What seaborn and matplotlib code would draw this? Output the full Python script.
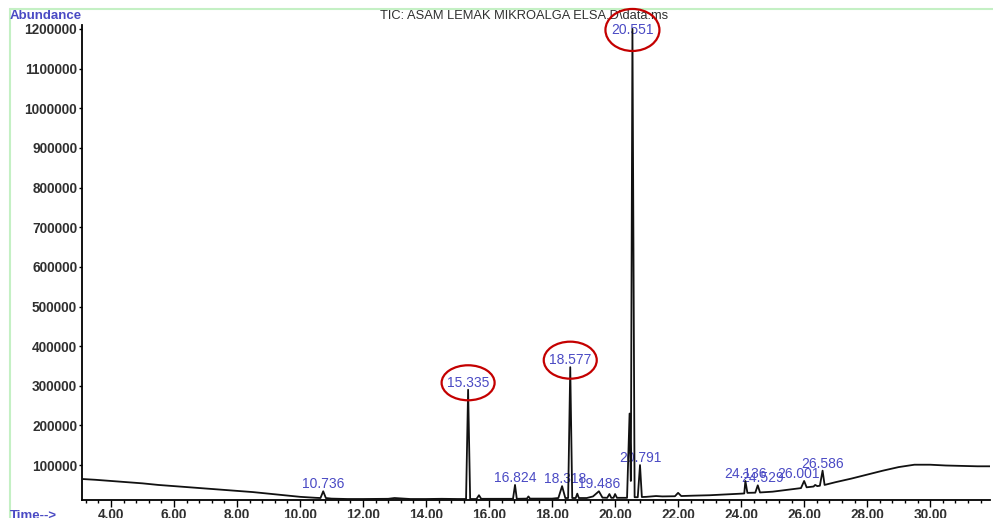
#!/usr/bin/env python3
# -*- coding: utf-8 -*-
"""
Kromatogram TIC - asam lemak mikroalga (GC-MS), digambar ulang dengan seaborn.
"""

import matplotlib
matplotlib.use("Agg")
import pandas as pd
import matplotlib.pyplot as plt
import seaborn as sns
from matplotlib.patches import Ellipse
from matplotlib.lines import Line2D
from matplotlib.ticker import MultipleLocator, FormatStrFormatter, FuncFormatter
from matplotlib.transforms import IdentityTransform

# --- DATA ---
waktu = [
    3.08, 3.5, 4.0, 4.5, 5.0, 5.5, 6.0, 6.5, 7.0, 7.5, 8.0, 8.5, 9.0, 9.5,
    10.0, 10.5, 10.65, 10.736, 10.82, 11.0, 11.5, 12.0, 12.8, 13.0, 13.5,
    14.0, 14.5, 15.0, 15.27, 15.335, 15.40, 15.6, 15.68, 15.75, 16.2, 16.76,
    16.824, 16.88, 17.2, 17.25, 17.3, 18.0, 18.2, 18.318, 18.42, 18.51,
    18.577, 18.64, 18.75, 18.8, 18.85, 19.1, 19.3, 19.486, 19.6, 19.75,
    19.82, 19.88, 19.95, 20.0, 20.06, 20.38, 20.46, 20.50, 20.551, 20.62,
    20.72, 20.791, 20.85, 21.0, 21.3, 21.5, 21.9, 22.0, 22.1, 22.5, 23.0,
    23.5, 24.0, 24.1, 24.136, 24.2, 24.45, 24.529, 24.6, 25.0, 25.5, 25.9,
    26.001, 26.08, 26.3, 26.35, 26.42, 26.5, 26.586, 26.65, 27.0, 27.5,
    28.0, 28.5, 29.0, 29.5, 30.0, 30.5, 31.0, 31.5, 31.9,
]
abundance = [
    65000, 63000, 60000, 57000, 54000, 50000, 47000, 44000, 41000, 38000,
    35000, 32000, 28000, 24000, 20000, 17500, 17000, 34000, 17000, 15500,
    14500, 14500, 15000, 17000, 14500, 14500, 15000, 14500, 14500, 290000,
    14500, 14500, 24000, 15000, 15000, 15000, 50000, 15000, 15500, 21000,
    15500, 15500, 17000, 47000, 17000, 17000, 347000, 17000, 17000, 28000,
    17000, 17000, 21000, 34000, 18000, 17500, 27000, 17500, 17500, 27000,
    17500, 17500, 230000, 60000, 1200000, 19000, 19000, 100000, 19500,
    20000, 22000, 21000, 21500, 30000, 22000, 23000, 24000, 26000, 28000,
    28500, 60000, 30000, 30500, 49000, 31000, 33000, 38000, 42000, 60000,
    44000, 46000, 50000, 47000, 48000, 86000, 50000, 57000, 66000, 76000,
    86000, 95000, 101000, 101000, 99000, 98000, 97000, 97000,
]
puncak_berlabel = [10.736, 15.335, 16.824, 18.318, 18.577, 19.486,
                   20.551, 20.791, 24.136, 24.529, 26.001, 26.586]
puncak_dilingkari = [15.335, 18.577, 20.551]
judul = "TIC: ASAM LEMAK MIKROALGA ELSA.D\\data.ms"

# --- GAYA ---
BIRU = "#4a4ac4"
ABU_TEKS = "#303030"
MERAH = "#c40000"
HIJAU = "#c4f0c4"

sns.set_theme(style="white")
plt.rcParams['font.family'] = ['Liberation Sans', 'DejaVu Sans']

df = pd.DataFrame({'waktu': waktu, 'abundance': abundance})

fig = plt.figure(figsize=(9.93, 5.18), dpi=100)
ax = fig.add_axes([82 / 993, 18 / 518, 908 / 993, 475 / 518])

sns.lineplot(data=df, x='waktu', y='abundance', color='#111111', lw=1.3,
             estimator=None, sort=False, ax=ax, zorder=3)

ax.set_xlim(3.08, 31.9)
ax.set_ylim(12000, 1210000)
ax.set_xlabel('')
ax.set_ylabel('')

for s in ['top', 'right']:
    ax.spines[s].set_visible(False)
for s in ['left', 'bottom']:
    ax.spines[s].set_color('black')
    ax.spines[s].set_linewidth(1.3)

ax.xaxis.set_major_locator(MultipleLocator(2))
ax.xaxis.set_minor_locator(MultipleLocator(0.4))
ax.xaxis.set_major_formatter(FormatStrFormatter('%.2f'))
ax.yaxis.set_major_locator(MultipleLocator(100000))
ax.yaxis.set_major_formatter(FuncFormatter(lambda v, p: f"{int(round(v))}"))

ax.tick_params(axis='x', which='major', direction='out', length=5, width=1,
               color='black', bottom=True, pad=1, labelsize=9.8,
               labelcolor=ABU_TEKS)
ax.tick_params(axis='x', which='minor', direction='out', length=2.5, width=1,
               color='black', bottom=True)
ax.tick_params(axis='y', which='major', direction='out', length=2.5, width=1,
               color='black', left=True, pad=1, labelsize=9.8,
               labelcolor=ABU_TEKS)
for lbl in ax.get_xticklabels() + ax.get_yticklabels():
    lbl.set_fontweight('bold')

# label waktu retensi di atas puncak
geser_x = {18.318: 3, 24.529: 5, 26.001: -6}
geser_y = {20.551: -1}
pos_label = {}
for t in puncak_berlabel:
    h = abundance[waktu.index(t)]
    dx = geser_x.get(t, 0)
    dy = geser_y.get(t, 7)
    ax.annotate(f"{t:.3f}", xy=(t, h), xytext=(dx, dy),
                textcoords='offset pixels', ha='center', va='center',
                color=BIRU, fontsize=10, zorder=2, annotation_clip=False)
    pos_label[t] = (h, dx, dy)

# lingkaran merah di sekitar puncak utama
ukuran_elips = {15.335: (53, 35), 18.577: (53, 37), 20.551: (54, 42)}
for t in puncak_dilingkari:
    h, dx, dy = pos_label[t]
    px, py = ax.transData.transform((t, h))
    w, hh = ukuran_elips[t]
    e = Ellipse((px + dx, py + dy), w, hh, transform=IdentityTransform(),
                fill=False, edgecolor=MERAH, lw=1.6, zorder=5)
    fig.add_artist(e)

# teks judul & sumbu ala ChemStation
fig.text(524 / 993, 1 - 16 / 518, judul, ha='center', va='center',
         fontsize=9.3, color=ABU_TEKS)
fig.text(10 / 993, 1 - 16 / 518, "Abundance", ha='left', va='center',
         fontsize=9.5, fontweight='bold', color=BIRU)
fig.text(10 / 993, 1 - 516 / 518, "Time-->", ha='left', va='center',
         fontsize=9.5, fontweight='bold', color=BIRU)

# bingkai hijau muda
fig.add_artist(Line2D([10 / 993, 1], [1 - 9 / 518, 1 - 9 / 518],
                      color=HIJAU, lw=1.5, transform=fig.transFigure))
fig.add_artist(Line2D([10 / 993, 10 / 993], [0, 1 - 9 / 518],
                      color=HIJAU, lw=1.5, transform=fig.transFigure))

fig.savefig('out.png', dpi=100)
plt.close(fig)
